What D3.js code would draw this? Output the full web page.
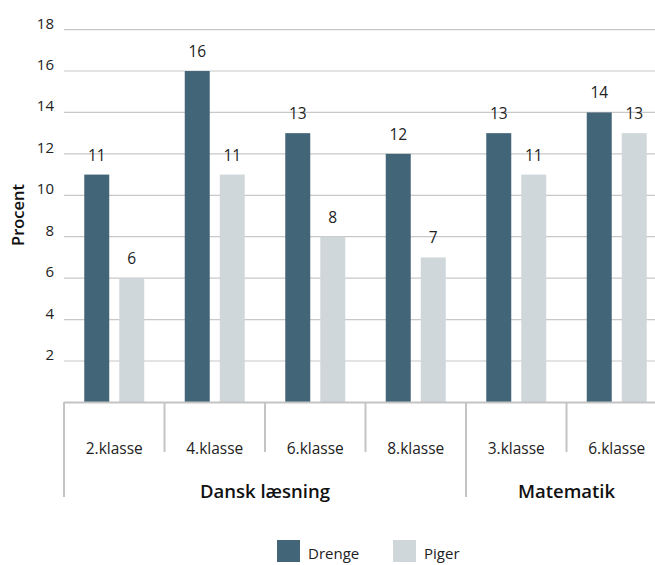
<!DOCTYPE html>
<html><head><meta charset="utf-8">
<script src="https://cdn.jsdelivr.net/npm/d3@7"></script>
<style>
body{margin:0;background:#fff;}
text{font-family:"Open Sans","Noto Sans",sans-serif;}
</style></head>
<body><svg id="c" width="655" height="565"></svg>
<script>
const categories = ["2.klasse","4.klasse","6.klasse","8.klasse","3.klasse","6.klasse"];
const groups = [{name:"Dansk læsning", start:0, end:4},{name:"Matematik", start:4, end:6}];
const drenge = [11,16,13,12,13,14];
const piger = [6,11,8,7,11,13];
const yTicks = [2,4,6,8,10,12,14,16,18];
const seriesNames = ["Drenge","Piger"];
const colors = ["#436578","#cfd7db"];

const svg = d3.select("#c");
const x = d3.scaleBand().domain(d3.range(categories.length)).range([64,667]).paddingInner(0).paddingOuter(0);
const y = d3.scaleLinear().domain([0,18]).range([402.4,29.6]);
const xs = d3.scaleBand().domain([0,1]).range([-30,30]).paddingInner(0.2857);

// gridlines
svg.append("g").selectAll("line").data(yTicks).join("line")
  .attr("x1",64).attr("x2",655)
  .attr("y1",d=>y(d)).attr("y2",d=>y(d))
  .attr("stroke","#c8c8c8").attr("stroke-width",1.2);
svg.append("g").selectAll("text").data(yTicks).join("text")
  .attr("x",54).attr("y",d=>y(d)-1).attr("text-anchor","end")
  .attr("font-size",15).attr("fill","#222").text(d=>d);

svg.append("text").attr("transform","translate(24,215) rotate(-90)")
  .attr("text-anchor","middle").attr("font-size",16.5).attr("font-weight",600)
  .attr("fill","#111").text("Procent");

// bars
const series=[drenge,piger];
series.forEach((vals,si)=>{
  const g=svg.append("g");
  g.selectAll("rect").data(vals).join("rect")
    .attr("x",(d,i)=>x(i)+x.bandwidth()/2+xs(si))
    .attr("width",xs.bandwidth())
    .attr("y",d=>y(d)).attr("height",d=>y(0)-y(d))
    .attr("fill",colors[si]);
  g.selectAll("text").data(vals).join("text")
    .attr("x",(d,i)=>x(i)+x.bandwidth()/2+xs(si)+xs.bandwidth()/2)
    .attr("y",d=>y(d)-14).attr("text-anchor","middle")
    .attr("font-size",15.5).attr("fill","#222").text(d=>d);
});

// axis line
svg.append("line").attr("x1",64).attr("x2",655).attr("y1",402.4).attr("y2",402.4)
  .attr("stroke","#c4c4c4").attr("stroke-width",2);

// separators
const groupStarts = groups.map(g=>g.start);
svg.append("g").selectAll("line").data(d3.range(categories.length)).join("line")
  .attr("x1",i=>x(i)).attr("x2",i=>x(i))
  .attr("y1",402).attr("y2",i=>groupStarts.includes(i)?497:452)
  .attr("stroke","#c4c4c4").attr("stroke-width",2);

svg.append("g").selectAll("text").data(categories).join("text")
  .attr("x",(d,i)=>x(i)+x.bandwidth()/2).attr("y",454)
  .attr("text-anchor","middle").attr("font-size",15.5).attr("fill","#222").text(d=>d);

svg.append("g").selectAll("text").data(groups).join("text")
  .attr("x",g=>(x(g.start)+x(g.end-1)+x.bandwidth())/2).attr("y",498)
  .attr("text-anchor","middle").attr("font-size",18.5).attr("font-weight",600)
  .attr("fill","#111").text(g=>g.name);

// legend
const legX=[277,393];
seriesNames.forEach((n,i)=>{
  svg.append("rect").attr("x",legX[i]).attr("y",540).attr("width",23).attr("height",22).attr("fill",colors[i]);
  svg.append("text").attr("x",legX[i]+31).attr("y",558.5).attr("font-size",15).attr("fill","#222").text(n);
});
</script></body></html>
